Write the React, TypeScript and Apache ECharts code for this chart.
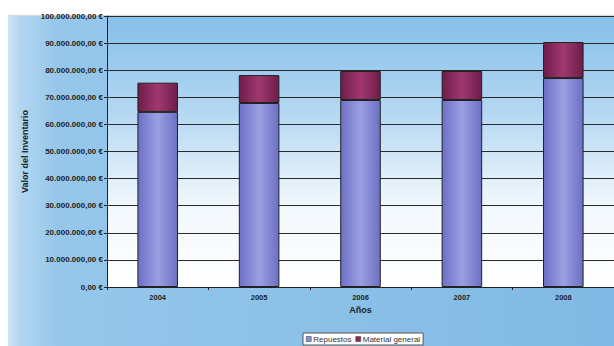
import React, { useEffect, useRef } from "react";
import * as echarts from "echarts";

const categories = ["2004", "2005", "2006", "2007", "2008"];
const repuestos = [64600000, 67900000, 69000000, 69000000, 77100000];
const materialGeneral = [10800000, 10300000, 10700000, 10700000, 13300000];
const yTicks = { min: 0, max: 100000000, interval: 10000000 };

function fmt(v: number): string {
  const s = Math.round(v).toString().replace(/\B(?=(\d{3})+(?!\d))/g, ".");
  return s + ",00 €";
}

export default function App() {
  const ref = useRef<HTMLDivElement>(null);
  useEffect(() => {
    if (!ref.current) return;
    const chart = echarts.init(ref.current, null, { renderer: "svg" });
    const font = "Liberation Sans, Arial, sans-serif";
    chart.setOption({
      animation: false,
      backgroundColor: "#ffffff",
      graphic: [
        {
          type: "rect",
          z: -10,
          silent: true,
          shape: { x: 8, y: 16, width: 606, height: 330 },
          style: {
            fill: new echarts.graphic.LinearGradient(0, 0, 1, 0, [
              { offset: 0, color: "#cfe6f7" },
              { offset: 0.02, color: "#b2d6f0" },
              { offset: 0.08, color: "#96c7eb" },
              { offset: 1, color: "#80b9e4" },
            ]),
          },
        },
        {
          type: "line",
          z: -9,
          silent: true,
          shape: { x1: 8, y1: 15.5, x2: 614, y2: 15.5 },
          style: { stroke: "#d8d8d8", lineWidth: 1 },
        },
      ],
      grid: {
        left: 107,
        top: 16,
        width: 513,
        height: 271,
        show: true,
        borderWidth: 0,
        backgroundColor: new echarts.graphic.LinearGradient(0, 0, 0, 1, [
          { offset: 0, color: "#86bfe9" },
          { offset: 0.35, color: "#b3d7f2" },
          { offset: 0.7, color: "#f2f8fd" },
          { offset: 1, color: "#ffffff" },
        ]),
      },
      legend: {
        left: 303,
        top: 333,
        itemWidth: 5,
        itemHeight: 5,
        itemGap: 4,
        padding: [2, 3, 2, 3],
        backgroundColor: "#ffffff",
        borderColor: "#555",
        borderWidth: 1,
        textStyle: { fontSize: 8, fontFamily: font, color: "#333", padding: [0, 0, 0, -3] },
        data: [
          { name: "Repuestos", icon: "rect", itemStyle: { color: "#8a8ed8", borderColor: "#333", borderWidth: 0.5 } },
          { name: "Material general", icon: "rect", itemStyle: { color: "#8e2a60", borderColor: "#333", borderWidth: 0.5 } },
        ],
      },
      xAxis: {
        type: "category",
        data: categories,
        name: "Años",
        nameLocation: "middle",
        nameGap: 17,
        nameTextStyle: { fontSize: 9, fontWeight: "bold", fontFamily: font, color: "#222" },
        axisLine: { lineStyle: { color: "#222", width: 1 } },
        axisTick: { show: true, length: 3, lineStyle: { color: "#222" } },
        axisLabel: { fontSize: 7.5, fontWeight: "bold", fontFamily: font, color: "#222", margin: 6 },
      },
      yAxis: {
        type: "value",
        min: yTicks.min,
        max: yTicks.max,
        interval: yTicks.interval,
        name: "Valor del Inventario",
        nameLocation: "middle",
        nameGap: 76,
        nameTextStyle: { fontSize: 9, fontWeight: "bold", fontFamily: font, color: "#222" },
        axisLine: { show: true, lineStyle: { color: "#222", width: 1 } },
        axisTick: { show: true, length: 3, lineStyle: { color: "#222" } },
        axisLabel: {
          fontSize: 8,
          fontWeight: "bold",
          fontFamily: font,
          color: "#222",
          margin: 4,
          formatter: (v: number) => fmt(v),
        },
        splitLine: { show: true, lineStyle: { color: "#2a2a2a", width: 1 } },
      },
      series: [
        {
          name: "Repuestos",
          type: "bar",
          stack: "total",
          data: repuestos,
          barWidth: "40%",
          itemStyle: {
            borderColor: "#222",
            borderWidth: 1,
            color: new echarts.graphic.LinearGradient(0, 0, 1, 0, [
              { offset: 0, color: "#6c70c4" },
              { offset: 0.5, color: "#9b9fe2" },
              { offset: 1, color: "#6c70c4" },
            ]),
          },
        },
        {
          name: "Material general",
          type: "bar",
          stack: "total",
          data: materialGeneral,
          barWidth: "40%",
          itemStyle: {
            borderColor: "#222",
            borderWidth: 1,
            color: new echarts.graphic.LinearGradient(0, 0, 1, 0, [
              { offset: 0, color: "#6e1d4a" },
              { offset: 0.5, color: "#a0386f" },
              { offset: 1, color: "#6e1d4a" },
            ]),
          },
        },
      ],
    });
    return () => chart.dispose();
  }, []);
  return (
    <div
      ref={ref}
      style={{ position: "fixed", left: 0, top: 0, width: 614, height: 346 }}
    />
  );
}
